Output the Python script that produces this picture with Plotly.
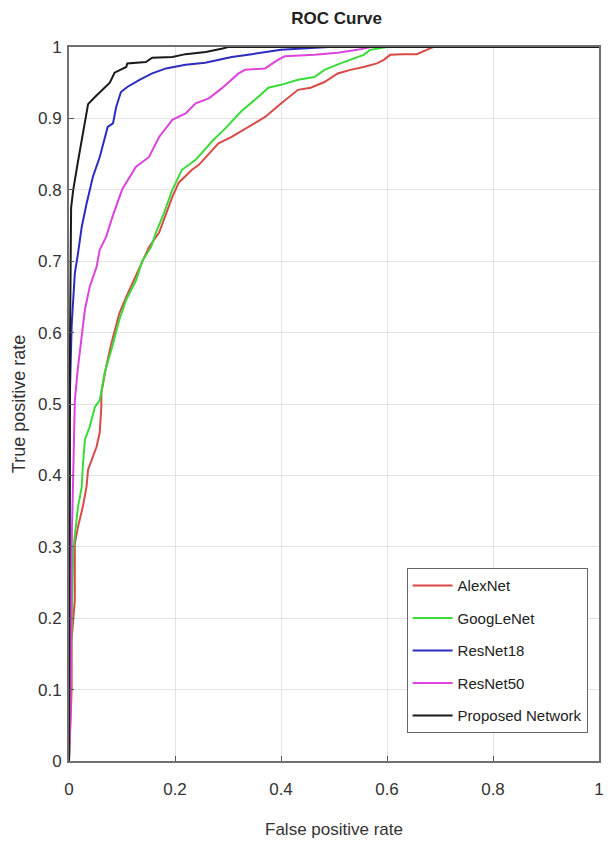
import plotly.graph_objects as go

# ---- data ----
alex_fpr = [0, 0.005, 0.005, 0.011, 0.011, 0.017, 0.026, 0.033, 0.036, 0.045, 0.052, 0.058, 0.061, 0.061,
            0.07, 0.08, 0.095, 0.108, 0.12, 0.133, 0.151, 0.17, 0.183, 0.195, 0.207, 0.232, 0.245, 0.264,
            0.282, 0.307, 0.338, 0.37, 0.40, 0.432, 0.456, 0.482, 0.507, 0.531, 0.556, 0.581, 0.594,
            0.606, 0.63, 0.656, 0.675, 0.687, 1.0]
alex_tpr = [0, 0.10, 0.17, 0.225, 0.305, 0.328, 0.356, 0.384, 0.408, 0.426, 0.44, 0.46, 0.496, 0.515,
            0.552, 0.585, 0.627, 0.65, 0.67, 0.692, 0.72, 0.74, 0.767, 0.79, 0.81, 0.828, 0.835, 0.85,
            0.865, 0.874, 0.888, 0.902, 0.921, 0.94, 0.943, 0.951, 0.963, 0.968, 0.972, 0.977, 0.982,
            0.989, 0.99, 0.99, 0.996, 1.0, 1.0]

goog_fpr = [0, 0.003, 0.005, 0.008, 0.017, 0.024, 0.026, 0.03, 0.039, 0.049, 0.058, 0.067, 0.08, 0.095,
            0.108, 0.127, 0.138, 0.155, 0.164, 0.179, 0.195, 0.213, 0.239, 0.27, 0.295, 0.325, 0.357,
            0.376, 0.40, 0.432, 0.463, 0.482, 0.512, 0.544, 0.556, 0.568, 0.60, 1.0]
goog_tpr = [0, 0.12, 0.18, 0.296, 0.356, 0.384, 0.412, 0.45, 0.468, 0.496, 0.505, 0.543, 0.576, 0.618,
            0.646, 0.674, 0.70, 0.72, 0.74, 0.767, 0.80, 0.828, 0.842, 0.868, 0.886, 0.91, 0.93,
            0.943, 0.947, 0.954, 0.958, 0.968, 0.977, 0.985, 0.989, 0.996, 1.0, 1.0]

res18_fpr = [0, 0.001, 0.002, 0.005, 0.011, 0.017, 0.024, 0.033, 0.045, 0.058, 0.067, 0.073, 0.083,
             0.089, 0.098, 0.11, 0.133, 0.157, 0.183, 0.22, 0.257, 0.307, 0.345, 0.40, 0.49, 1.0]
res18_tpr = [0, 0.30, 0.524, 0.61, 0.683, 0.711, 0.748, 0.78, 0.818, 0.846, 0.87, 0.888, 0.893,
             0.916, 0.937, 0.944, 0.954, 0.963, 0.97, 0.975, 0.978, 0.986, 0.99, 0.996, 1.0, 1.0]

res50_fpr = [0, 0.003, 0.005, 0.008, 0.011, 0.017, 0.024, 0.03, 0.039, 0.045, 0.052, 0.058, 0.07, 0.082,
             0.10, 0.126, 0.151, 0.17, 0.195, 0.22, 0.239, 0.264, 0.288, 0.32, 0.332, 0.37, 0.394,
             0.407, 0.463, 0.507, 0.544, 0.57, 1.0]
res50_tpr = [0, 0.067, 0.30, 0.42, 0.505, 0.552, 0.60, 0.632, 0.664, 0.676, 0.692, 0.716, 0.734, 0.762,
             0.80, 0.832, 0.846, 0.874, 0.898, 0.907, 0.921, 0.928, 0.942, 0.963, 0.968, 0.97, 0.982,
             0.987, 0.989, 0.992, 0.996, 1.0, 1.0]

prop_fpr = [0, 0.002, 0.004, 0.008, 0.017, 0.024, 0.030, 0.036, 0.049, 0.064, 0.077, 0.086, 0.108, 0.11,
            0.145, 0.157, 0.195, 0.22, 0.258, 0.29, 0.30, 1.0]
prop_tpr = [0, 0.60, 0.775, 0.80, 0.84, 0.87, 0.90, 0.92, 0.93, 0.94, 0.95, 0.964, 0.972, 0.977,
            0.979, 0.985, 0.986, 0.99, 0.993, 0.998, 1.0, 1.0]

series_names = ["AlexNet", "GoogLeNet", "ResNet18", "ResNet50", "Proposed Network"]
series_fpr = [alex_fpr, goog_fpr, res18_fpr, res50_fpr, prop_fpr]
series_tpr = [alex_tpr, goog_tpr, res18_tpr, res50_tpr, prop_tpr]
colors = ["#d94a46", "#3ada3a", "#2c2cc0", "#dc44dc", "#1a1a1a"]

x_ticks = [0, 0.2, 0.4, 0.6, 0.8, 1]
x_tick_labels = ["0", "0.2", "0.4", "0.6", "0.8", "1"]
y_ticks = [0, 0.1, 0.2, 0.3, 0.4, 0.5, 0.6, 0.7, 0.8, 0.9, 1]
y_tick_labels = ["0", "0.1", "0.2", "0.3", "0.4", "0.5", "0.6", "0.7", "0.8", "0.9", "1"]

FONT = "Liberation Sans, Arial, sans-serif"

fig = go.Figure()
for i, (name, fx, ty, c) in enumerate(zip(series_names, series_fpr, series_tpr, colors)):
    fig.add_trace(go.Scatter(x=fx, y=ty, mode="lines", name=name, legendgroup=f"g{i}",
                             line=dict(color=c, width=2)))

axis_common = dict(showgrid=True, gridcolor="#e3e3e3", gridwidth=1,
                   showline=True, linecolor="#707070", linewidth=2, mirror=True,
                   ticks="inside", ticklen=5, tickcolor="#555", zeroline=False,
                   tickfont=dict(family=FONT, size=17, color="#333"))

fig.update_xaxes(range=[0, 1], tickvals=x_ticks, ticktext=x_tick_labels, ticklabelstandoff=12,
                 title=dict(text="False positive rate", font=dict(family=FONT, size=17, color="#333"),
                            standoff=25),
                 **axis_common)
fig.update_yaxes(range=[0, 1], tickvals=y_ticks, ticktext=y_tick_labels, ticklabelstandoff=2,
                 title=dict(text="True positive rate", font=dict(family=FONT, size=18, color="#333"),
                            standoff=8),
                 **axis_common)

fig.update_layout(
    width=611, height=848,
    margin=dict(l=69, r=7, t=47, b=87),
    paper_bgcolor="white", plot_bgcolor="white",
    title=dict(text="<b>ROC Curve</b>", x=0.551, xanchor="center", y=0.979, yanchor="middle",
               font=dict(family=FONT, size=17, color="#222")),
    legend=dict(x=0.637, y=0.27, xanchor="left", yanchor="top",
                bgcolor="white", bordercolor="#666", borderwidth=1,
                font=dict(family=FONT, size=15, color="#222"),
                itemwidth=40, tracegroupgap=10),
    showlegend=True,
)

fig.write_html("out.html")
